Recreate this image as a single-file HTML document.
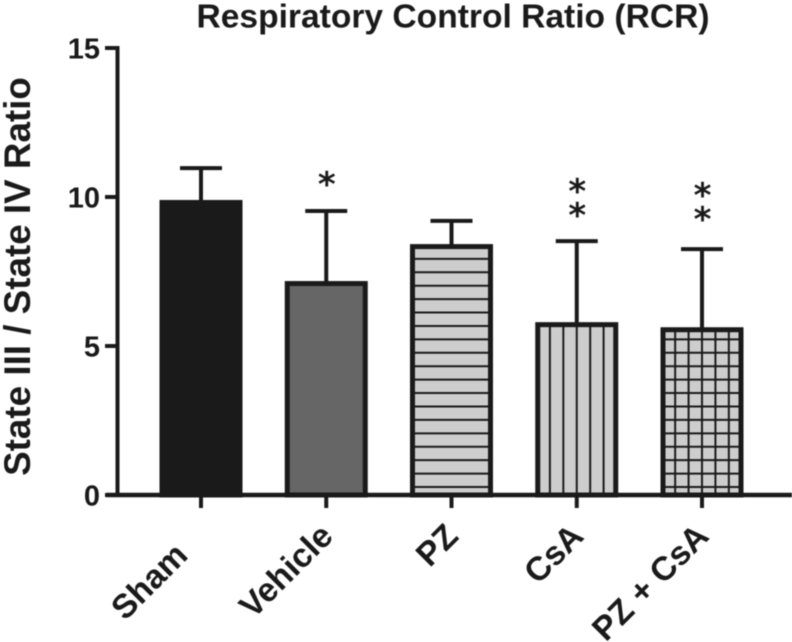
<!DOCTYPE html>
<html>
<head>
<meta charset="utf-8">
<style>
html,body{margin:0;padding:0;background:#fff;}
svg{display:block;filter:blur(0.4px);}
text{font-family:"Liberation Sans",sans-serif;font-weight:bold;fill:#1a1a1a;}
</style>
</head>
<body>
<svg id="chart" width="792" height="642" viewBox="0 0 792 642" xmlns="http://www.w3.org/2000/svg"></svg>
<script>
const categories = ["Sham", "Vehicle", "PZ", "CsA", "PZ + CsA"];
const means = [9.9, 7.18, 8.42, 5.8, 5.63];
const errorTops = [10.97, 9.53, 9.2, 8.52, 8.25];
const starLevels = [[], [10.6], [], [9.56, 10.37], [9.43, 10.23]];
const fills = ["#1a1a1a", "#666666", "#cdcdcd", "#cdcdcd", "#cdcdcd"];
const hatches = ["none", "none", "h", "v", "hv"];
const yTicks = [0, 5, 10, 15];

const svg = document.getElementById('chart');
const NS = 'http://www.w3.org/2000/svg';
const INK = '#1a1a1a';
function y(v){ return 495 - v * 29.8; }
function x(i){ return 201 + i * 125.25; }
function mk(tag, attrs, name, parent){
  const el = document.createElementNS(NS, tag);
  for (const k in attrs) el.setAttribute(k, attrs[k]);
  
  
  (parent || svg).appendChild(el);
  return el;
}
function line(x1, y1, x2, y2, w, name, parent){
  return mk('line', {x1, y1, x2, y2, stroke: INK, 'stroke-width': w}, name, parent);
}

const title = mk('text', {x: 453, y: 27.5, 'text-anchor': 'middle', 'font-size': 33.6}, 'chart-title');
title.textContent = 'Respiratory Control Ratio (RCR)';

const yTitle = mk('text', {x: 0, y: 0, 'text-anchor': 'middle', 'font-size': 36.8, transform: 'translate(30 276.5) rotate(-90)'}, 'y-axis-title');
yTitle.textContent = 'State III / State IV Ratio';

categories.forEach((c, i) => {
  const g = mk('g', {}, 'bar-group-' + c.toLowerCase().replace(/[^a-z]+/g, '-'));
  const cx = x(i), sw = 5, half = 41.5 - sw / 2, top = y(means[i]) + sw / 2, bottom = y(0);
  line(cx, top, cx, y(errorTops[i]), 4, 'error-bar-stem', g);
  line(cx - 21, y(errorTops[i]), cx + 21, y(errorTops[i]), 4, 'error-bar-cap', g);
  mk('rect', {x: cx - half, y: top, width: half * 2, height: bottom - top, fill: fills[i]}, 'bar', g);
  if (hatches[i].includes('h')) {
    for (let hy = bottom - 8; hy > top + 4; hy -= 13.42) {
      line(cx - half, hy, cx + half, hy, 2, 'hatch-line-horizontal', g);
    }
  }
  if (hatches[i].includes('v')) {
    for (let k = -2; k <= 2; k++) {
      line(cx + k * 13.42, top, cx + k * 13.42, bottom, 2, 'hatch-line-vertical', g);
    }
  }
  mk('rect', {x: cx - half, y: top, width: half * 2, height: bottom - top, fill: 'none', stroke: INK, 'stroke-width': sw}, 'bar-outline', g);
  line(cx, 495, cx, 508, 4, 'x-axis-tick', g);
  starLevels[i].forEach(level => {
    const st = mk('text', {x: cx + 0.5, y: y(level) + 17, 'text-anchor': 'middle', 'font-size': 34}, 'significance-asterisk', g);
    st.setAttribute('style', 'font-family:"DejaVu Sans",sans-serif;font-weight:bold;');
    st.textContent = '*';
  });
  const shift = i === 0 ? -20 : 0;
  const t = mk('text', {x: 0, y: 0, 'text-anchor': 'end', 'font-size': 33.5, transform: `translate(${cx + 8.5 + shift} ${538 + (i === 0 ? 19 : 0)}) rotate(-45)`}, 'x-axis-label', g);
  t.textContent = c;
});

line(117.5, 46, 117.5, 497, 4, 'y-axis-line');
line(106, 495, 792, 495, 4.5, 'x-axis-line');
yTicks.forEach(v => {
  line(105, y(v), 118, y(v), 4, 'y-axis-tick');
  const t = mk('text', {x: 100, y: y(v) + 10.5, 'text-anchor': 'end', 'font-size': 29}, 'y-axis-tick-label');
  t.textContent = v;
});
</script>
</body>
</html>
